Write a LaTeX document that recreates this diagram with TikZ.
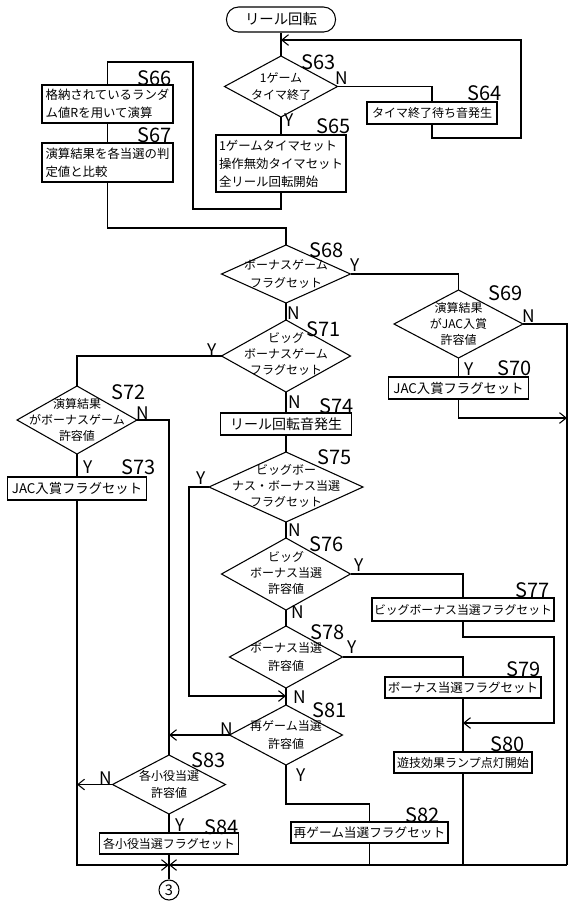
\documentclass[tikz,border=0pt]{standalone}
\usepackage{fontspec}
\setmainfont{Noto Sans CJK JP}
\usetikzlibrary{arrows.meta,shapes.geometric}
\newcommand{\fsz}[2]{\fontsize{#1pt}{#2pt}\selectfont}
\begin{document}
\begin{tikzpicture}[x=0.75pt,y=-0.75pt, line width=0.8pt,
  box/.style 2 args={draw, rectangle, inner sep=0pt, outer sep=0pt, minimum width=#1*0.75pt, minimum height=#2*0.75pt, align=center, font=\fsz{9.3}{13.5}},
  dia/.style 2 args={draw, diamond, inner sep=0pt, outer sep=0pt, minimum width=#1*0.75pt, minimum height=#2*0.75pt},
  dtext/.style={align=center, font=\fsz{9}{12}, inner sep=0pt},
  slab/.style={font=\fsz{15}{15}, inner sep=0pt},
  yn/.style={font=\fsz{13}{13}, inner sep=0pt},
  arr/.style={-{Straight Barb[length=5pt,width=8pt]}},
]
\fill[white] (0,0) rectangle (569,901);
\useasboundingbox (0,0) rectangle (569,901);

% nodes
\node[draw, rounded corners=9pt, minimum width=109*0.75pt, minimum height=25*0.75pt, inner sep=0pt, font=\fsz{10.8}{12}] (term) at (281,19.5) {リール回転};
\node[dia={113}{61}] (s63) at (281,86.5) {};
\node[dtext, font=\fsz{9}{13}] (s63t) at (281,86.5) {1ゲーム\\タイマ終了};
\node[box={130}{22}, font=\fsz{9}{12}] (s64) at (432,113) {タイマ終了待ち音発生};
\node[box={130}{57}, align=left] (s65) at (281,163.5) {1ゲームタイマセット\\操作無効タイマセット\\全リール回転開始};
\node[box={131}{38}, align=left] (s66) at (107.5,104) {格納されているランダ\\ム値Rを用いて演算};
\node[box={131}{39}, align=left] (s67) at (107.5,162.5) {演算結果を各当選の判\\定値と比較};
\node[dia={129}{58}] (s68) at (286,274) {};
\node[dtext, font=\fsz{9}{13}] (s68t) at (286,274) {ボーナスゲーム\\フラグセット};
\node[dia={129}{68}] (s69) at (458.5,324) {};
\node[dtext] (s69t) at (458.5,324) {演算結果\\がJAC入賞\\許容値};
\node[box={140}{22}, font=\fsz{10}{12}] (s70) at (458.5,388) {JAC入賞フラグセット};
\node[dia={129}{72}] (s71) at (286,356) {};
\node[dtext] (s71t) at (286,354) {ビッグ\\ボーナスゲーム\\フラグセット};
\node[dia={120}{68}] (s72) at (77,420) {};
\node[dtext] (s72t) at (77,420) {演算結果\\がボーナスゲーム\\許容値};
\node[box={139}{23}, font=\fsz{10}{12}] (s73) at (77,488.5) {JAC入賞フラグセット};
\node[box={131}{22}, font=\fsz{10.5}{12}] (s74) at (286,424) {リール回転音発生};
\node[dia={154}{70}] (s75) at (286,487) {};
\node[dtext] (s75t) at (286,486) {ビッグボー\\ナス・ボーナス当選\\フラグセット};
\node[dia={129}{72}] (s76) at (286,574) {};
\node[dtext] (s76t) at (286,573) {ビッグ\\ボーナス当選\\許容値};
\node[box={182}{23}, font=\fsz{8.9}{12}] (s77) at (463,609.5) {ビッグボーナス当選フラグセット};
\node[dia={113}{62}] (s78) at (286,657) {};
\node[dtext, font=\fsz{9}{13}] (s78t) at (286,657) {ボーナス当選\\許容値};
\node[box={156}{21}, font=\fsz{9.4}{12}] (s79) at (463,687.5) {ボーナス当選フラグセット};
\node[box={138}{21}, font=\fsz{9}{12}] (s80) at (463,762.5) {遊技効果ランプ点灯開始};
\node[dia={113}{60}] (s81) at (286,735) {};
\node[dtext, font=\fsz{9}{13}] (s81t) at (286,735) {再ゲーム当選\\許容値};
\node[box={157}{21}, font=\fsz{9.5}{12}] (s82) at (369.5,832.5) {再ゲーム当選フラグセット};
\node[dia={113}{59}] (s83) at (169,784.5) {};
\node[dtext, font=\fsz{9}{13}] (s83t) at (169,784.5) {各小役当選\\許容値};
\node[box={139}{21}, font=\fsz{9}{12}] (s84) at (169,843.5) {各小役当選フラグセット};
\node[draw, circle, minimum size=15pt, inner sep=0pt, font=\fsz{11}{11}] (c3) at (169,890) {3};

% step labels
\node[slab] (l63) at (319,62) {S63};
\node[slab] (l64) at (485,93) {S64};
\node[slab] (l65) at (334,126) {S65};
\node[slab] (l66) at (155,78) {S66};
\node[slab] (l67) at (155,135) {S67};
\node[slab] (l68) at (327,250) {S68};
\node[slab] (l69) at (506,293) {S69};
\node[slab] (l70) at (515,368) {S70};
\node[slab] (l71) at (324,329) {S71};
\node[slab] (l72) at (129,392) {S72};
\node[slab] (l73) at (139,467) {S73};
\node[slab] (l74) at (337,406) {S74};
\node[slab] (l75) at (335,457) {S75};
\node[slab] (l76) at (327,544) {S76};
\node[slab] (l77) at (533,590) {S77};
\node[slab] (l78) at (328,632) {S78};
\node[slab] (l79) at (524,669) {S79};
\node[slab] (l80) at (508,744) {S80};
\node[slab] (l81) at (330,710) {S81};
\node[slab] (l82) at (423,815) {S82};
\node[slab] (l83) at (209,760) {S83};
\node[slab] (l84) at (222,827) {S84};

% Y / N labels
\node[yn] (n63) at (342,78) {N};
\node[yn] (y63) at (289,120) {Y};
\node[yn] (y68) at (355,265) {Y};
\node[yn] (n68) at (294,313) {N};
\node[yn] (n69) at (529,316) {N};
\node[yn] (y69) at (469,369) {Y};
\node[yn] (y71) at (212,350) {Y};
\node[yn] (n71) at (295,402) {N};
\node[yn] (n72) at (143,413) {N};
\node[yn] (y72) at (88,467) {Y};
\node[yn] (y75) at (201,478) {Y};
\node[yn] (n75) at (295,530) {N};
\node[yn] (y76) at (359,565) {Y};
\node[yn] (n76) at (298,612) {N};
\node[yn] (y78) at (352,647) {Y};
\node[yn] (n78) at (300,697) {N};
\node[yn] (n81) at (227,729) {N};
\node[yn] (y81) at (301,775) {Y};
\node[yn] (n83) at (106,778) {N};
\node[yn] (y83) at (180,825) {Y};

% connectors
\coordinate (c1) at (521,138);
\coordinate (c2) at (521,40);
\coordinate (k1) at (193,209);
\coordinate (k2) at (193,62);
\coordinate (k3) at (286,228);
\coordinate (br) at (567,865);
\coordinate (jn) at (169,865);
\coordinate (k4) at (567,418);
\coordinate (k5) at (189,696);
\coordinate (k6) at (554,637);
\coordinate (k7) at (554,723);
\coordinate (k8) at (369.5,804);

\draw (term) -- (s63);
\draw[arr] (s64.south) |- (c1) -- (c2) -- (c2 -| term.south);
\draw (s63.east) -| (s64.north);
\draw (s63) -- (s65);
\draw (s65.south) |- (k1) -- (k2) -| (s66.north);
\draw (s66) -- (s67);
\draw (s67.south) |- (k3) -- (s68.north);
\draw (s68.east) -| (s69.north);
\draw (s69.east) -| (br);
\draw[arr] (br) -- (jn);
\draw (s69) -- (s70);
\draw[arr] (s70.south) |- (k4);
\draw (s68) -- (s71);
\draw (s71.west) -| (s72.north);
\draw (s72) -- (s73);
\draw (s72.east) -| (s83.north);
\draw[arr] (s73.south) |- (jn);
\draw[arr] (s83.west) -- (s83.west -| s73.south);
\draw (s71) -- (s74);
\draw (s74) -- (s75);
\draw (s75) -- (s76);
\draw (s76) -- (s78);
\draw (s78) -- (s81);
\draw[arr] (s75.west) -| (k5) -- (k5 -| s81.north);
\draw (s76.east) -| (s77.north);
\draw[arr] (s77.south) |- (k6) -- (k7) -- (k7 -| s80.north);
\draw (s78.east) -| (s79.north);
\draw (s79) -- (s80);
\draw (s80.south) -- (s80.south |- br);
\draw[arr] (s81.west) -- (s81.west -| s83.north);
\draw (s81.south) |- (k8) -- (s82.north);
\draw (s82.south) -- (s82.south |- br);
\draw (s83) -- (s84);
\draw (s84) -- (c3);
\end{tikzpicture}
\end{document}
